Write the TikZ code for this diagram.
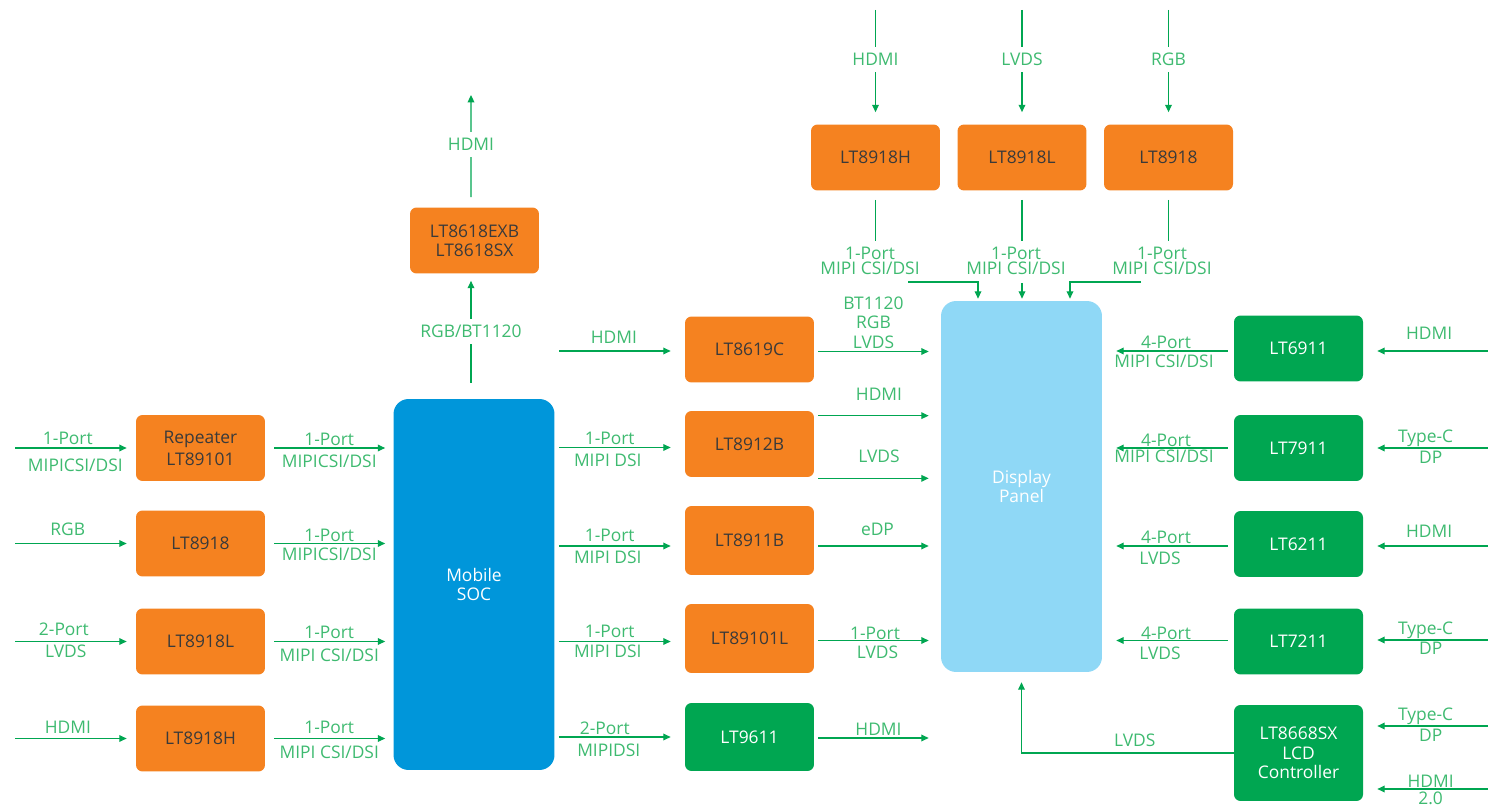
\documentclass[tikz,border=0pt]{standalone}
\usepackage{fontspec}
\setmainfont{Open Sans}
\usetikzlibrary{arrows.meta}
\definecolor{orgfill}{RGB}{245,130,32}
\definecolor{grnfill}{RGB}{0,166,81}
\definecolor{socblue}{RGB}{0,150,218}
\definecolor{panelblue}{RGB}{143,216,246}
\definecolor{linegrn}{RGB}{0,166,81}
\definecolor{labgrn}{RGB}{62,186,112}
\definecolor{darktxt}{RGB}{58,58,58}
\begin{document}
\begin{tikzpicture}[x=0.02cm, y=-0.02cm,
  every node/.style={font=\fontsize{9.9}{11}\selectfont},
  obox/.style={fill=orgfill, text=darktxt, rounded corners=0.13cm, minimum width=2.58cm, minimum height=1.32cm, inner sep=0pt, align=center},
  gbox/.style={obox, fill=grnfill, text=white},
  bigbox/.style={rounded corners=0.3cm, minimum width=3.22cm, minimum height=7.42cm, inner sep=0pt, align=center, text=white},
  wire/.style={draw=linegrn, line width=0.7pt},
  arr/.style={wire, -{Triangle[length=4.2pt,width=3.8pt]}},
  lab/.style={text=labgrn, inner sep=1pt, align=center},
  gaplab/.style={lab, fill=white, inner xsep=2pt, inner ysep=3.5pt},
]
\useasboundingbox (0,0) rectangle (1488,807);

% ---------- boxes ----------
\node[obox] (rep) at (200.5,448) {Repeater\\[1.5pt]LT89101};
\node[obox] (la) at (200.5,543.5) {LT8918};
\node[obox] (lb) at (200.5,641.5) {LT8918L};
\node[obox] (lc) at (200.5,738.5) {LT8918H};
\node[bigbox, fill=socblue] (soc) at (474,584.5) {Mobile\\SOC};
\node[obox] (exb) at (474.5,240.5) {LT8618EXB\\LT8618SX};

\node[obox] (m1) at (749.5,349.5) {LT8619C};
\node[obox] (m2) at (749.5,444) {LT8912B};
\node[obox, minimum height=1.38cm] (m3) at (749.5,540.5) {LT8911B};
\node[obox, minimum height=1.38cm] (m4) at (749.5,638.5) {LT89101L};
\node[gbox, minimum height=1.36cm] (m5) at (749.5,737) {LT9611};

\node[obox] (t1) at (875.5,157.5) {LT8918H};
\node[obox] (t2) at (1022,157.5) {LT8918L};
\node[obox] (t3) at (1168.5,157.5) {LT8918};

\node[bigbox, fill=panelblue] (disp) at (1021.5,486.5) {Display\\Panel};

\node[gbox] (r1) at (1298.5,348.5) {LT6911};
\node[gbox] (r2) at (1298.5,448) {LT7911};
\node[gbox] (r3) at (1298.5,544) {LT6211};
\node[gbox] (r4) at (1298.5,641.5) {LT7211};
\node[gbox, minimum height=1.92cm] (r5) at (1298.5,753) {LT8668SX\\LCD\\Controller};

% ---------- left inputs ----------
\coordinate (ia) at (15,448);
\coordinate (ib) at (15,543.5);
\coordinate (ic) at (15,641.5);
\coordinate (id) at (15,738.5);
\draw[arr, shorten >=0.18cm] (ia) -- node[lab, yshift=0.2cm, xshift=-0.15cm] (ia1) {1-Port} node[lab, yshift=-0.34cm] (ia2) {MIPICSI/DSI} (rep.west);
\draw[arr, shorten >=0.18cm] (ib) -- node[lab, yshift=0.28cm, xshift=-0.15cm] (ib1) {RGB} (la.west);
\draw[arr, shorten >=0.18cm] (ic) -- node[lab, yshift=0.24cm, xshift=-0.23cm] (ic1) {2-Port} node[lab, yshift=-0.2cm, xshift=-0.19cm] (ic2) {LVDS} (lb.west);
\draw[arr, shorten >=0.18cm] (id) -- node[lab, yshift=0.22cm, xshift=-0.15cm] (id1) {HDMI} (lc.west);

% ---------- left boxes to SOC ----------
\draw[arr, shorten <=0.18cm, shorten >=0.16cm] (rep.east) -- node[lab, yshift=0.18cm] (ra1) {1-Port} node[lab, yshift=-0.26cm] (ra2) {MIPICSI/DSI} (rep.east -| soc.west);
\draw[arr, shorten <=0.18cm, shorten >=0.16cm] (la.east) -- node[lab, yshift=0.16cm] (rb1) {1-Port} node[lab, yshift=-0.22cm] (rb2) {MIPICSI/DSI} (la.east -| soc.west);
\draw[arr, shorten <=0.18cm, shorten >=0.16cm] (lb.east) -- node[lab, yshift=0.18cm] (rc1) {1-Port} node[lab, yshift=-0.28cm] (rc2) {MIPI CSI/DSI} (lb.east -| soc.west);
\draw[arr, shorten <=0.18cm, shorten >=0.16cm] (lc.east) -- node[lab, yshift=0.22cm] (rd1) {1-Port} node[lab, yshift=-0.28cm] (rd2) {MIPI CSI/DSI} (lc.east -| soc.west);

% ---------- SOC up to LT8618 and HDMI out ----------
\coordinate (eu) at (471,95);
\draw[arr, shorten <=0.32cm, shorten >=0.14cm] ([xshift=-0.07cm]exb.south |- soc.north) -- node[gaplab, pos=0.54] (su1) {RGB/BT1120} ([xshift=-0.07cm]exb.south);
\draw[arr, shorten <=0.2cm] ([xshift=-0.07cm]exb.north) -- node[gaplab, pos=0.558] (su2) {HDMI} (eu);

% ---------- SOC to middle ----------
\coordinate (ih) at (559,351);
\draw[arr, shorten >=0.28cm] (ih) -- node[lab, yshift=0.28cm, xshift=-0.16cm] (mh1) {HDMI} (ih -| m1.west);
\draw[arr, shorten <=0.08cm, shorten >=0.28cm] ([yshift=-0.07cm]m2.west -| soc.east) -- node[lab, yshift=0.18cm, xshift=-0.2cm] (sm21) {1-Port} node[lab, yshift=-0.26cm, xshift=-0.24cm] (sm22) {MIPI DSI} ([yshift=-0.07cm]m2.west);
\draw[arr, shorten <=0.08cm, shorten >=0.28cm] ([yshift=-0.11cm]m3.west -| soc.east) -- node[lab, yshift=0.22cm, xshift=-0.2cm] (sm31) {1-Port} node[lab, yshift=-0.22cm, xshift=-0.24cm] (sm32) {MIPI DSI} ([yshift=-0.11cm]m3.west);
\draw[arr, shorten <=0.08cm, shorten >=0.28cm] ([yshift=-0.06cm]m4.west -| soc.east) -- node[lab, yshift=0.2cm, xshift=-0.2cm] (sm41) {1-Port} node[lab, yshift=-0.2cm, xshift=-0.24cm] (sm42) {MIPI DSI} ([yshift=-0.06cm]m4.west);
\draw[arr, shorten <=0.08cm, shorten >=0.28cm] (m5.west -| soc.east) -- node[lab, yshift=0.18cm, xshift=-0.3cm] (sm51) {2-Port} node[lab, yshift=-0.26cm, xshift=-0.22cm] (sm52) {MIPIDSI} (m5.west);

% ---------- middle to display ----------
\draw[arr, shorten <=0.08cm, shorten >=0.24cm] ([yshift=-0.04cm]m1.east) -- node[lab, yshift=0.58cm, xshift=-0.08cm] (md1) {BT1120\\RGB\\LVDS} ([yshift=-0.04cm]m1.east -| disp.west);
\draw[arr, shorten <=0.08cm, shorten >=0.24cm] ([yshift=-0.1cm]m2.north east) -- node[lab, yshift=0.42cm, xshift=0.03cm] (md21) {HDMI} ([yshift=-0.1cm]m2.north east -| disp.west);
\draw[arr, shorten <=0.08cm, shorten >=0.24cm] ([yshift=-0.02cm]m2.south east) -- node[lab, yshift=0.44cm, xshift=0.03cm] (md22) {LVDS} ([yshift=-0.02cm]m2.south east -| disp.west);
\draw[arr, shorten <=0.08cm, shorten >=0.24cm] ([yshift=-0.11cm]m3.east) -- node[lab, yshift=0.34cm] (md3) {eDP} ([yshift=-0.11cm]m3.east -| disp.west);
\draw[arr, shorten <=0.08cm, shorten >=0.24cm] ([yshift=-0.04cm]m4.east) -- node[lab, yshift=0.15cm, xshift=-0.05cm] (md41) {1-Port} node[lab, yshift=-0.24cm] (md42) {LVDS} ([yshift=-0.04cm]m4.east -| disp.west);
\draw[arr, shorten <=0.08cm, shorten >=0.24cm] ([yshift=-0.02cm]m5.east) -- node[lab, yshift=0.18cm, xshift=0.02cm] (md5) {HDMI} ([yshift=-0.02cm]m5.east -| disp.west);

% ---------- top inputs ----------
\coordinate (u1) at (875.5,10);
\coordinate (u2) at (1022,10);
\coordinate (u3) at (1168.5,10);
\draw[arr, shorten >=0.24cm] (u1) -- node[gaplab, pos=0.435] (tu1) {HDMI} (t1.north);
\draw[arr, shorten >=0.24cm] (u2) -- node[gaplab, pos=0.435] (tu2) {LVDS} (t2.north);
\draw[arr, shorten >=0.24cm] (u3) -- node[gaplab, pos=0.435] (tu3) {RGB} (t3.north);

\draw[wire, shorten <=0.18cm] (t1.south) -- ++(0,50);
\draw[wire, shorten <=0.18cm] (t2.south) -- ++(0,50);
\draw[wire, shorten <=0.18cm] (t3.south) -- ++(0,50);
\node[lab] (tl1) at (870,261) {1-Port\\[-2.5pt]MIPI CSI/DSI};
\node[lab] (tl2) at (1016,261) {1-Port\\[-2.5pt]MIPI CSI/DSI};
\node[lab] (tl3) at (1162,261) {1-Port\\[-2.5pt]MIPI CSI/DSI};

\coordinate (k1) at (908,282);
\coordinate (k2) at (1022,283);
\coordinate (k3) at (1141,282);
\draw[arr, shorten >=0.04cm] (k1) -| ([xshift=-0.87cm]disp.north);
\draw[arr, shorten >=0.04cm] (k2) -- (k2 |- disp.north);
\draw[arr, shorten >=0.04cm] (k3) -| ([xshift=0.97cm]disp.north);

% ---------- right column to display ----------
\draw[arr, shorten <=0.12cm, shorten >=0.28cm] ([yshift=-0.05cm]r1.west) -- node[lab, yshift=0.18cm, xshift=-0.04cm] (rl11) {4-Port} node[lab, yshift=-0.2cm, xshift=-0.08cm] (rl12) {MIPI CSI/DSI} ([yshift=-0.05cm]r1.west -| disp.east);
\draw[arr, shorten <=0.12cm, shorten >=0.28cm] (r2.west) -- node[lab, yshift=0.15cm, xshift=-0.04cm] (rl21) {4-Port} node[lab, yshift=-0.17cm, xshift=-0.08cm] (rl22) {MIPI CSI/DSI} (r2.west -| disp.east);
\draw[arr, shorten <=0.12cm, shorten >=0.28cm] ([yshift=-0.04cm]r3.west) -- node[lab, yshift=0.18cm, xshift=-0.04cm] (rl31) {4-Port} node[lab, yshift=-0.24cm, xshift=-0.16cm] (rl32) {LVDS} ([yshift=-0.04cm]r3.west -| disp.east);
\draw[arr, shorten <=0.12cm, shorten >=0.28cm] ([yshift=0.02cm]r4.west) -- node[lab, yshift=0.15cm, xshift=-0.04cm] (rl41) {4-Port} node[lab, yshift=-0.26cm, xshift=-0.16cm] (rl42) {LVDS} ([yshift=0.02cm]r4.west -| disp.east);
\draw[arr, shorten >=0.2cm] (r5.west) -| node[lab, pos=0.233, yshift=0.26cm] (rl5) {LVDS} (disp.south);

% ---------- right inputs ----------
\coordinate (v1) at (1488,351);
\coordinate (v2) at (1488,448);
\coordinate (v3) at (1488,546);
\coordinate (v4) at (1488,640);
\coordinate (v5) at (1488,726);
\coordinate (v6) at (1488,789);
\draw[arr, shorten >=0.28cm] (v1) -- node[lab, yshift=0.36cm, xshift=0.07cm] (vi1) {HDMI} (v1 -| r1.east);
\draw[arr, shorten >=0.28cm] (v2) -- node[lab, yshift=0.19cm] (vi21) {Type-C} node[lab, yshift=-0.18cm, xshift=0.1cm] (vi22) {DP} (v2 -| r2.east);
\draw[arr, shorten >=0.28cm] (v3) -- node[lab, yshift=0.29cm, xshift=0.07cm] (vi3) {HDMI} (v3 -| r3.east);
\draw[arr, shorten >=0.28cm] (v4) -- node[lab, yshift=0.2cm] (vi41) {Type-C} node[lab, yshift=-0.17cm, xshift=0.1cm] (vi42) {DP} (v4 -| r4.east);
\draw[arr, shorten >=0.28cm] (v5) -- node[lab, yshift=0.19cm] (vi51) {Type-C} node[lab, yshift=-0.18cm, xshift=0.1cm] (vi52) {DP} (v5 -| r5.east);
\draw[arr, shorten >=0.28cm] (v6) -- node[lab, yshift=0.15cm, xshift=0.1cm] (vi61) {HDMI} node[lab, yshift=-0.19cm, xshift=0.1cm] (vi62) {2.0} (v6 -| r5.east);
\end{tikzpicture}
\end{document}
